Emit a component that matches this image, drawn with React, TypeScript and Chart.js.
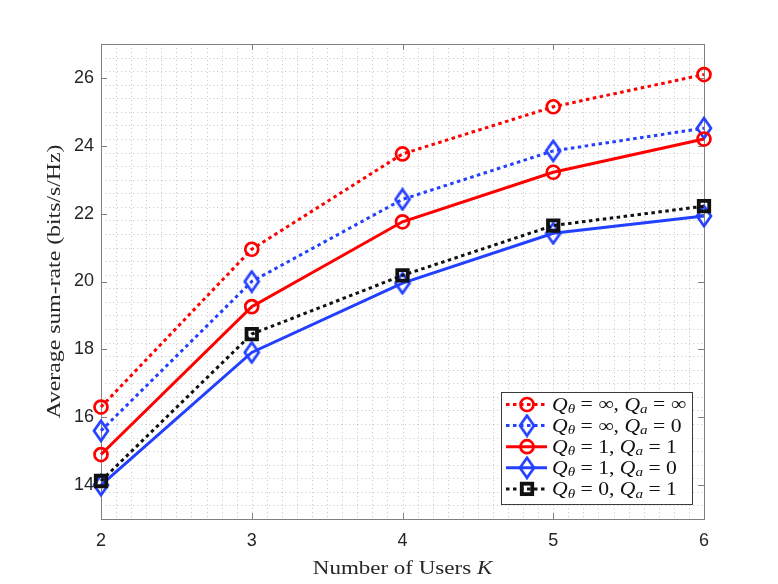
import React, { useEffect, useRef } from 'react';
import { Chart, registerables } from 'chart.js';

Chart.register(...registerables);

const users = [2, 3, 4, 5, 6];
const rateInfInf = [16.3, 20.95, 23.76, 25.15, 26.1];
const rateInfZero = [15.6, 20.0, 22.42, 23.85, 24.52];
const rateOneOne = [14.9, 19.26, 21.76, 23.22, 24.2];
const rateOneZero = [14.0, 17.91, 19.95, 21.42, 21.93];
const rateZeroOne = [14.12, 18.45, 20.18, 21.65, 22.22];

const xTicks = [2, 3, 4, 5, 6];
const yTicks = [14, 16, 18, 20, 22, 24, 26];
const thetaValues = ['\u221E', '\u221E', '1', '1', '0'];
const aValues = ['\u221E', '0', '1', '0', '1'];
const xTitle = 'Number of Users ';
const xTitleVar = 'K';
const yTitle = 'Average sum-rate (bits/s/Hz)';

const RED = '#ff0000';
const BLUE = '#2440ff';
const BLACK = '#111111';
const SERIF = '"Liberation Serif", "DejaVu Serif", serif';
const SANS = '"Liberation Sans", Arial, sans-serif';
const STRETCH_X = 1.21;
const STRETCH_Y = 1.25;

function makeDiamond(color: string): HTMLCanvasElement {
  const c = document.createElement('canvas');
  c.width = 18;
  c.height = 24;
  const g = c.getContext('2d')!;
  g.strokeStyle = color;
  g.lineWidth = 2.7;
  g.lineJoin = 'miter';
  g.beginPath();
  g.moveTo(9, 2);
  g.lineTo(16, 12);
  g.lineTo(9, 22);
  g.lineTo(2, 12);
  g.closePath();
  g.stroke();
  return c;
}

type Seg = { t: string; it?: boolean; sub?: boolean };

function richWidth(ctx: CanvasRenderingContext2D, segs: Seg[], size: number) {
  let w = 0;
  for (const s of segs) {
    const fs = s.sub ? size * 0.7 : size;
    ctx.font = `${s.it ? 'italic ' : ''}${fs}px ${SERIF}`;
    w += ctx.measureText(s.t).width;
  }
  return w;
}

function drawRich(ctx: CanvasRenderingContext2D, segs: Seg[], size: number) {
  let cx = 0;
  for (const s of segs) {
    const fs = s.sub ? size * 0.7 : size;
    ctx.font = `${s.it ? 'italic ' : ''}${fs}px ${SERIF}`;
    ctx.fillText(s.t, cx, s.sub ? size * 0.22 : 0);
    cx += ctx.measureText(s.t).width;
  }
}

export default function App() {
  const ref = useRef<HTMLCanvasElement | null>(null);

  useEffect(() => {
    document.body.style.margin = '0';
    const canvas = ref.current!;
    const diamond = makeDiamond(BLUE);

    const mk = (data: number[]) => users.map((u, i) => ({ x: u, y: data[i] }));

    const styles = [
      { label: 'inf-inf', data: rateInfInf, color: RED, dash: [3.5, 3.5], point: 'circle' as any, r: 6.5, bw: 2.7 },
      { label: 'inf-0', data: rateInfZero, color: BLUE, dash: [3.5, 3.5], point: diamond as any, r: 8, bw: 2.7 },
      { label: '1-1', data: rateOneOne, color: RED, dash: [], point: 'circle' as any, r: 6.5, bw: 2.7 },
      { label: '1-0', data: rateOneZero, color: BLUE, dash: [], point: diamond as any, r: 8, bw: 2.7 },
      { label: '0-1', data: rateZeroOne, color: BLACK, dash: [3.5, 3.5], point: 'rect' as any, r: 7.4, bw: 3.8 },
    ];

    const bgPlugin = {
      id: 'matlabAxes',
      beforeDatasetsDraw(chart: any) {
        const { ctx, chartArea: a, scales } = chart;
        const xs = scales.x;
        const ys = scales.y;
        ctx.save();
        ctx.fillStyle = '#ffffff';
        ctx.fillRect(a.left, a.top, a.right - a.left, a.bottom - a.top);
        ctx.strokeStyle = 'rgba(0,0,0,0.19)';
        ctx.lineWidth = 1;
        ctx.setLineDash([1.2, 2.8]);
        for (let k = 1; k < 40; k++) {
          const px = Math.round(xs.getPixelForValue(2 + k * 0.1)) + 0.5;
          ctx.beginPath();
          ctx.moveTo(px, a.top);
          ctx.lineTo(px, a.bottom);
          ctx.stroke();
        }
        for (let k = 1; k < 35; k++) {
          const py = Math.round(ys.getPixelForValue(13 + k * 0.4)) + 0.5;
          ctx.beginPath();
          ctx.moveTo(a.left, py);
          ctx.lineTo(a.right, py);
          ctx.stroke();
        }
        ctx.setLineDash([]);
        ctx.strokeStyle = '#808080';
        ctx.lineWidth = 1;
        ctx.strokeRect(Math.round(a.left) + 0.5, Math.round(a.top) + 0.5, Math.round(a.right - a.left), Math.round(a.bottom - a.top));
        const tl = 6;
        ctx.beginPath();
        for (const v of xTicks) {
          const px = Math.round(xs.getPixelForValue(v)) + 0.5;
          ctx.moveTo(px, a.bottom);
          ctx.lineTo(px, a.bottom - tl);
          ctx.moveTo(px, a.top);
          ctx.lineTo(px, a.top + tl);
        }
        for (const v of yTicks) {
          const py = Math.round(ys.getPixelForValue(v)) + 0.5;
          ctx.moveTo(a.left, py);
          ctx.lineTo(a.left + tl, py);
          ctx.moveTo(a.right, py);
          ctx.lineTo(a.right - tl, py);
        }
        ctx.stroke();
        ctx.restore();
      },
      afterDraw(chart: any) {
        const { ctx, chartArea: a } = chart;
        ctx.save();
        ctx.fillStyle = '#262626';
        ctx.textBaseline = 'alphabetic';
        // x title
        const size = 19;
        const xSegs: Seg[] = [{ t: xTitle }, { t: xTitleVar, it: true }];
        const wx = richWidth(ctx, xSegs, size) * STRETCH_X;
        ctx.save();
        ctx.translate((a.left + a.right) / 2 - wx / 2, 574);
        ctx.scale(STRETCH_X, 1);
        drawRich(ctx, xSegs, size);
        ctx.restore();
        // y title
        const ySegs: Seg[] = [{ t: yTitle }];
        const wy = richWidth(ctx, ySegs, size) * STRETCH_Y;
        ctx.save();
        ctx.translate(60, (a.top + a.bottom) / 2 + wy / 2);
        ctx.rotate(-Math.PI / 2);
        ctx.scale(STRETCH_Y, 1);
        drawRich(ctx, ySegs, size);
        ctx.restore();

        // legend
        const lx = 501, ly = 392, lw = 191, lh = 112;
        ctx.fillStyle = '#ffffff';
        ctx.fillRect(lx, ly, lw, lh);
        ctx.strokeStyle = '#3c3c3c';
        ctx.lineWidth = 1;
        ctx.strokeRect(lx + 0.5, ly + 0.5, lw, lh);
        styles.forEach((s, i) => {
          const ry = 404.5 + i * 21.1;
          ctx.strokeStyle = s.color;
          ctx.lineWidth = 3;
          ctx.setLineDash(s.dash);
          ctx.beginPath();
          ctx.moveTo(506, ry);
          ctx.lineTo(547, ry);
          ctx.stroke();
          ctx.setLineDash([]);
          const mx = 527;
          if (s.point === 'circle') {
            ctx.lineWidth = s.bw;
            ctx.beginPath();
            ctx.arc(mx, ry, s.r, 0, Math.PI * 2);
            ctx.stroke();
          } else if (s.point === 'rect') {
            ctx.lineWidth = s.bw;
            const h = Math.SQRT1_2 * s.r;
            ctx.strokeRect(mx - h, ry - h, 2 * h, 2 * h);
          } else {
            ctx.drawImage(diamond, mx - diamond.width / 2, ry - diamond.height / 2);
          }
          ctx.fillStyle = '#111111';
          ctx.textBaseline = 'middle';
          ctx.save();
          ctx.translate(552, ry + 1);
          ctx.scale(1.14, 1);
          drawRich(ctx, [
            { t: 'Q', it: true },
            { t: '\u03B8', it: true, sub: true },
            { t: ' = ' },
            { t: thetaValues[i] },
            { t: ', ' },
            { t: 'Q', it: true },
            { t: 'a', it: true, sub: true },
            { t: ' = ' },
            { t: aValues[i] },
          ], 19);
          ctx.restore();
        });
        ctx.restore();
      },
    };

    const chart = new Chart(canvas, {
      type: 'line',
      data: {
        datasets: styles.map((s, i) => ({
          label: s.label,
          data: mk(s.data),
          borderColor: s.color,
          backgroundColor: 'rgba(0,0,0,0)',
          borderWidth: 3,
          borderDash: s.dash,
          pointStyle: s.point,
          pointRadius: s.r,
          pointBorderWidth: s.bw,
          pointBorderColor: s.color,
          pointBackgroundColor: 'rgba(0,0,0,0)',
          tension: 0,
          fill: false,
          clip: false as any,
          order: styles.length - i,
        })),
      },
      options: {
        responsive: false,
        animation: false,
        events: [],
        layout: { padding: { left: 0, top: 44, right: 74, bottom: 0 } },
        plugins: { legend: { display: false }, tooltip: { enabled: false } },
        scales: {
          x: {
            type: 'linear',
            min: 2,
            max: 6,
            afterBuildTicks: (s: any) => { s.ticks = xTicks.map((v) => ({ value: v })); },
            afterFit: (s: any) => { s.height = 65; },
            grid: { display: false, drawTicks: false },
            border: { display: false },
            ticks: { color: '#262626', font: { family: SANS, size: 18 }, padding: 11, maxRotation: 0 },
          },
          y: {
            type: 'linear',
            min: 13,
            max: 27,
            afterBuildTicks: (s: any) => { s.ticks = yTicks.map((v) => ({ value: v })); },
            afterFit: (s: any) => { s.width = 101; },
            grid: { display: false, drawTicks: false },
            border: { display: false },
            ticks: { color: '#262626', font: { family: SANS, size: 18 }, padding: 7 },
          },
        },
      },
      plugins: [bgPlugin],
    });
    return () => chart.destroy();
  }, []);

  return <canvas ref={ref} width={778} height={584} style={{ display: 'block' }} />;
}
